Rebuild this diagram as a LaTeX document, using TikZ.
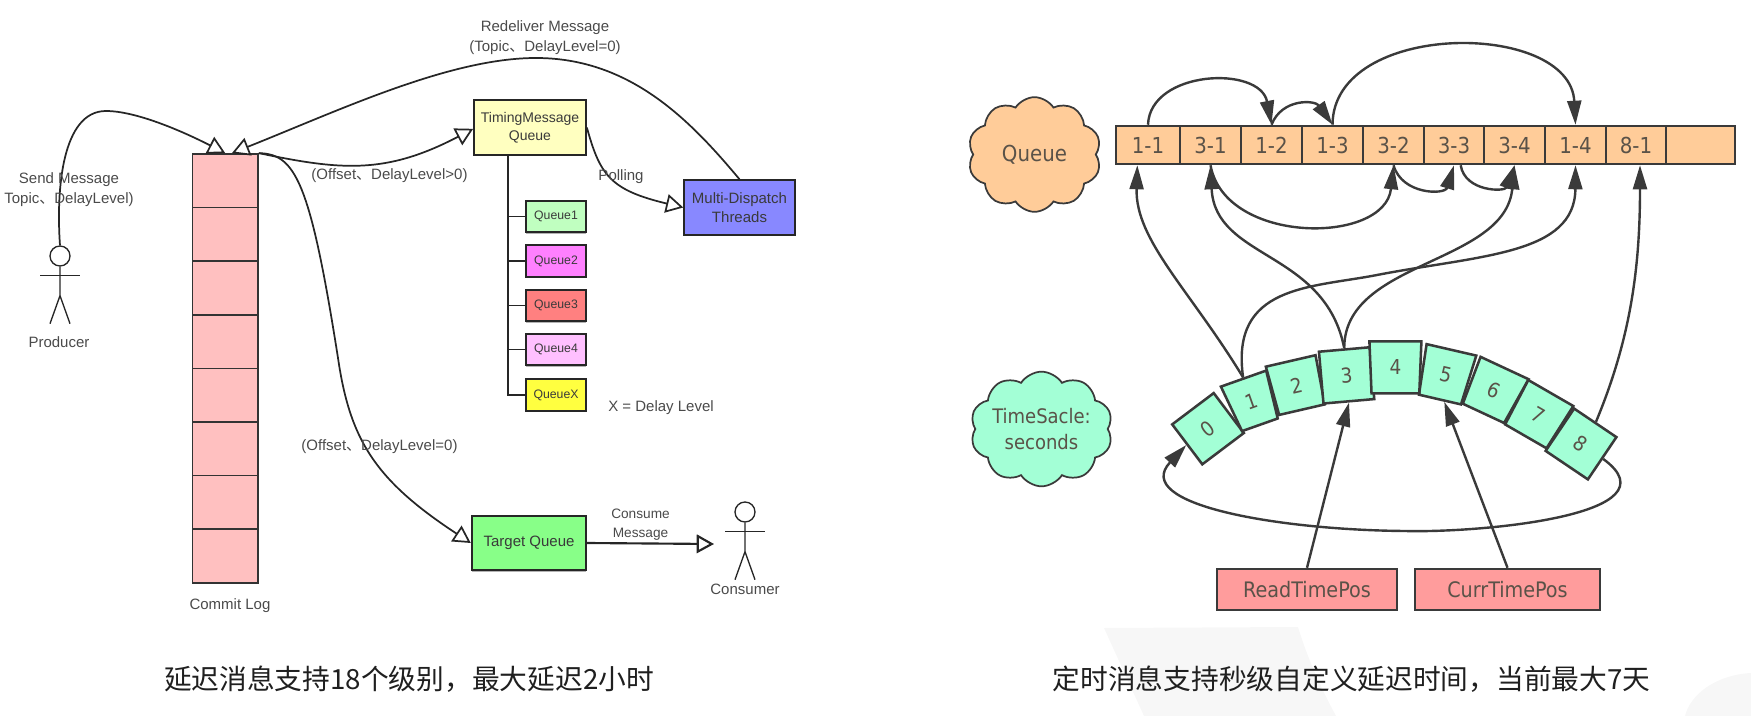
\documentclass[tikz,border=0pt]{standalone}
\usepackage{fontspec}
\setmainfont{Liberation Sans}
\newfontfamily\cjkfont{Noto Sans CJK SC}
\newfontfamily\condfont{DejaVu Sans Condensed}
\usetikzlibrary{arrows.meta,shapes.symbols,shapes.geometric,shadows}
\definecolor{logred}{HTML}{FFC0C0}
\definecolor{timeyellow}{HTML}{FFFFC0}
\definecolor{threadblue}{HTML}{8888FF}
\definecolor{qgreen}{HTML}{C0FFC0}
\definecolor{qmagenta}{HTML}{FF80FF}
\definecolor{qred}{HTML}{FF8080}
\definecolor{qpink}{HTML}{FFC0FF}
\definecolor{qyellow}{HTML}{FFFF40}
\definecolor{targetgreen}{HTML}{88FF88}
\definecolor{slotorange}{HTML}{FFCC99}
\definecolor{tickgreen}{HTML}{A3FFD6}
\definecolor{posred}{HTML}{FF9C9C}
\definecolor{inkgray}{HTML}{3A3A3A}
\definecolor{labelgray}{HTML}{4A4A4A}
\definecolor{cellgray}{HTML}{5A5248}
\definecolor{markgray}{HTML}{F7F7F7}
\newcommand{\dun}{{\cjkfont 、}}
\tikzstyle{box} = [draw=black!85, line width=1.3pt, inner sep=0pt, align=center, text=inkgray,
	font=\fontsize{11.25}{14.25}\selectfont,
	drop shadow={shadow xshift=0pt, shadow yshift=-1.2pt, fill=black!50, opacity=.6}]
\tikzstyle{qbox} = [box, minimum width=45pt, minimum height=23.5pt, font=\fontsize{9.2}{11}\selectfont]
\tikzstyle{logbox} = [draw=black!80, line width=1.3pt, fill=logred, minimum width=49pt, minimum height=40.2pt, inner sep=0pt]
\tikzstyle{lbl} = [text=labelgray, inner sep=0pt, align=center, font=\fontsize{11.25}{15.5}\selectfont]
\tikzstyle{caption} = [text=black!88, inner sep=0pt, font=\cjkfont\fontsize{20.8}{25}\selectfont]
\tikzstyle{line} = [line width=1.3pt, black!85]
\tikzstyle{openline} = [line, -{Triangle[open, fill=white, length=13pt, width=14pt]}]
\tikzstyle{actor} = [draw=black!85, line width=1pt, fill=white, circle, minimum size=15pt, inner sep=0pt]
\tikzstyle{slot} = [draw=inkgray, line width=1.9pt, fill=slotorange, inner sep=0pt, text=cellgray, minimum height=28.5pt,
	font=\condfont\fontsize{16.5}{18}\selectfont]
\tikzstyle{tick} = [draw=inkgray, line width=1.9pt, fill=tickgreen, inner sep=0pt, text=cellgray,
	trapezium, trapezium stretches=true, font=\condfont\fontsize{15.4}{18}\selectfont]
\tikzstyle{posbox} = [draw=inkgray, line width=1.6pt, fill=posred, inner sep=0pt, text=cellgray, minimum height=31pt,
	font=\condfont\fontsize{16}{18}\selectfont]
\tikzstyle{puff} = [cloud, cloud puffs=10, cloud puff arc=115, cloud ignores aspect, draw=inkgray, line width=1.3pt, inner sep=0pt, align=center,
	text=cellgray, font=\condfont\fontsize{16.5}{19.5}\selectfont]
\tikzstyle{arr} = [line width=1.8pt, inkgray, -{Triangle[length=18pt, width=10.5pt]}]
\begin{document}
\begin{tikzpicture}[x=.75pt, y=-.75pt]
	\useasboundingbox (0,0) rectangle (1751,716);

	% Watermark
	\fill[markgray] (1104,628) -- (1298,627) .. controls (1308,660) and (1322,690) .. (1336,716) -- (1144,716) -- cycle;
	\fill[markgray] (1685,716) .. controls (1690,695) and (1715,675) .. (1751,673) -- (1751,716) -- cycle;

	% Commit Log
	\foreach \i in {1,...,8}
		\node[logbox] (log\i) at (225.25,{154+53.6*(\i-.5)}) {};
	\node[lbl] (loglabel) at (230,606) {Commit Log};

	% Queues
	\node[box, fill=timeyellow, minimum width=84pt, minimum height=41pt, font=\fontsize{10.5}{13.5}\selectfont] (timing) at (530,127.5) {TimingMessage\\Queue};
	\node[box, fill=threadblue, minimum width=83pt, minimum height=41pt] (threads) at (739.5,207.5) {Multi-Dispatch\\Threads};
	\foreach \n/\y/\c in {1/216.5/qgreen, 2/261/qmagenta, 3/305.5/qred, 4/349.5/qpink, X/395/qyellow}
		\node[qbox, fill=\c] (dq\n) at (556,\y) {Queue\n};
	\node[box, fill=targetgreen, minimum width=86pt, minimum height=40.5pt] (target) at (529,543) {Target Queue};
	\coordinate (trunk) at (508,155);
	\draw[line] (trunk) |- (dqX.west);
	\foreach \n in {1,2,3,4}
		\draw[line] (trunk |- dq\n.west) -- (dq\n.west);

	% Producer, Consumer
	\node[actor] (phead) at (60,256) {};
	\node[actor] (chead) at (745,512) {};
	\foreach \h in {phead,chead} {
		\draw[line, line width=1pt] (\h.south) -- ++(0,29) -- ++(-10,28);
		\draw[line, line width=1pt] (\h.south) ++(0,29) -- ++(10,28);
		\draw[line, line width=1pt] (\h.south) ++(-20,9) -- ++(40,0);
	}
	\node[lbl] (plabel) at (59,342) {Producer};
	\node[lbl] (clabel) at (745,589) {Consumer};

	% Left connectors
	\draw[openline] (phead.north) .. controls (56,190) and (62,111) .. (106,111) .. controls (135,111) and (180,130) .. (log1.north);
	\draw[openline] (threads.north) .. controls (690,120) and (630,58) .. (536,58) .. controls (450,58) and (340,110) .. ([xshift=5pt]log1.north);
	\draw[openline] (log1.north east) .. controls (340,170) and (385,175) .. ([yshift=-1pt]timing.west);
	\draw[openline] (log1.north east) .. controls (295,154) and (310,180) .. (338,358) .. controls (350,440) and (375,480) .. (target.west);
	\draw[openline] (timing.east) .. controls (600,175) and (610,190) .. (threads.west);
	\coordinate (cend) at (714,544);
	\draw[openline, line width=1.6pt] (target.east) -- (cend);

	% Left labels
	\node[lbl] (redeliver) at (545,37.5) {Redeliver Message\\(Topic\dun DelayLevel=0)};
	\node[lbl] (send) at (69,189.5) {Send Message\\Topic\dun DelayLevel)};
	\node[lbl] (offsetgt) at (389.5,176) {(Offset\dun DelayLevel>0)};
	\node[lbl] (polling) at (621,177) {Polling};
	\node[lbl] (xdelay) at (661,408) {X = Delay Level};
	\node[lbl] (offseteq) at (379.5,447) {(Offset\dun DelayLevel=0)};
	\node[lbl, font=\fontsize{10.25}{14.2}\selectfont] (consume) at (640.5,524.5) {Consume\\Message};
	\node[caption] (leftcap) at (409,679) {延迟消息支持18个级别，最大延迟2小时};

	% Queue
	\node[puff, fill=slotorange, minimum width=100pt, minimum height=86pt] (qcloud) at (1034.5,154.5) {Queue};
	\foreach \i/\xa/\xb/\t in {1/1116/1180/1-1, 2/1180/1241/3-1, 3/1241/1302/1-2, 4/1302/1363/1-3, 5/1363/1424/3-2,
		6/1424/1484/3-3, 7/1484/1545/3-4, 8/1545/1606/1-4, 9/1606/1666/8-1, 10/1666/1735/{}}
		\node[slot, minimum width={(\xb-\xa)*.75pt}] (slot\i) at ({(\xa+\xb)/2},145) {\t};

	% TimeScale
	\node[puff, fill=tickgreen, minimum width=100pt, minimum height=86pt, font=\condfont\fontsize{15}{19.5}\selectfont] (tcloud) at (1041.5,429) {TimeSacle:\\seconds};
	\foreach \n/\x/\y/\r/\w/\h/\a in {0/1208/428.7/37/52/50/90, 1/1251.7/401.7/19.5/48/49/96, 2/1296.3/385.3/13/51/50/92, 3/1346.6/375.4/5/51/52/90,
		5/1445.7/374.7/-13/51/51/94, 6/1494/390.7/-25/53/50/93.5, 7/1538.3/414.7/-30/52/50/92, 8/1581/444/-34/51/51/90, 4/1395.4/367.4/0/52/52/92}
		\node[tick, rotate=\r, trapezium left angle=\a, trapezium right angle=\a, minimum width={\w*.75pt}, minimum height={\h*.75pt}] (tick\n) at (\x,\y) {\n};

	% Pointers
	\node[posbox, minimum width=135.5pt] (readpos) at (1307,589.5) {ReadTimePos};
	\node[posbox, minimum width=139pt] (currpos) at (1507.5,589.5) {CurrTimePos};

	% Right connectors
	\draw[arr] (slot1.north) .. controls (1150,70) and (1260,65) .. (slot3.north);
	\draw[arr] (slot3.north) .. controls (1282,98) and (1315,100) .. (slot4.north);
	\draw[arr] (slot4.north) .. controls (1333,20) and (1570,20) .. (slot8.north);
	\draw[arr] (slot2.south) .. controls (1225,245) and (1385,245) .. (slot5.south);
	\draw[arr] (slot5.south) .. controls (1402,195) and (1445,195) .. (slot6.south);
	\draw[arr] ([xshift=5pt]slot6.south) .. controls (1465,192) and (1505,192) .. (slot7.south);
	\draw[arr] (tick1.north) .. controls (1190,290) and (1135,240) .. ([xshift=-8pt]slot1.south);
	\draw[arr] (tick1.north) .. controls (1230,285) and (1310,288) .. (1377,275) .. controls (1480,255) and (1575,255) .. (slot8.south);
	\draw[arr] (tick3.north) .. controls (1325,250) and (1215,260) .. (slot2.south);
	\draw[arr] (tick3.north) .. controls (1344,260) and (1505,265) .. (slot7.south);
	\draw[arr] (tick8.north) .. controls (1630,340) and (1640,270) .. ([xshift=3pt]slot9.south);
	\draw[arr] (tick8.east) .. controls (1680,515) and (1480,533) .. (1405,531) .. controls (1280,530) and (1130,505) .. (tick0.west);
	\draw[arr] (readpos.north) -- (tick3.south);
	\draw[arr] (currpos.north) -- (tick5.-80);

	\node[caption] (rightcap) at (1351.6,679) {定时消息支持秒级自定义延迟时间，当前最大7天};
\end{tikzpicture}
\end{document}
